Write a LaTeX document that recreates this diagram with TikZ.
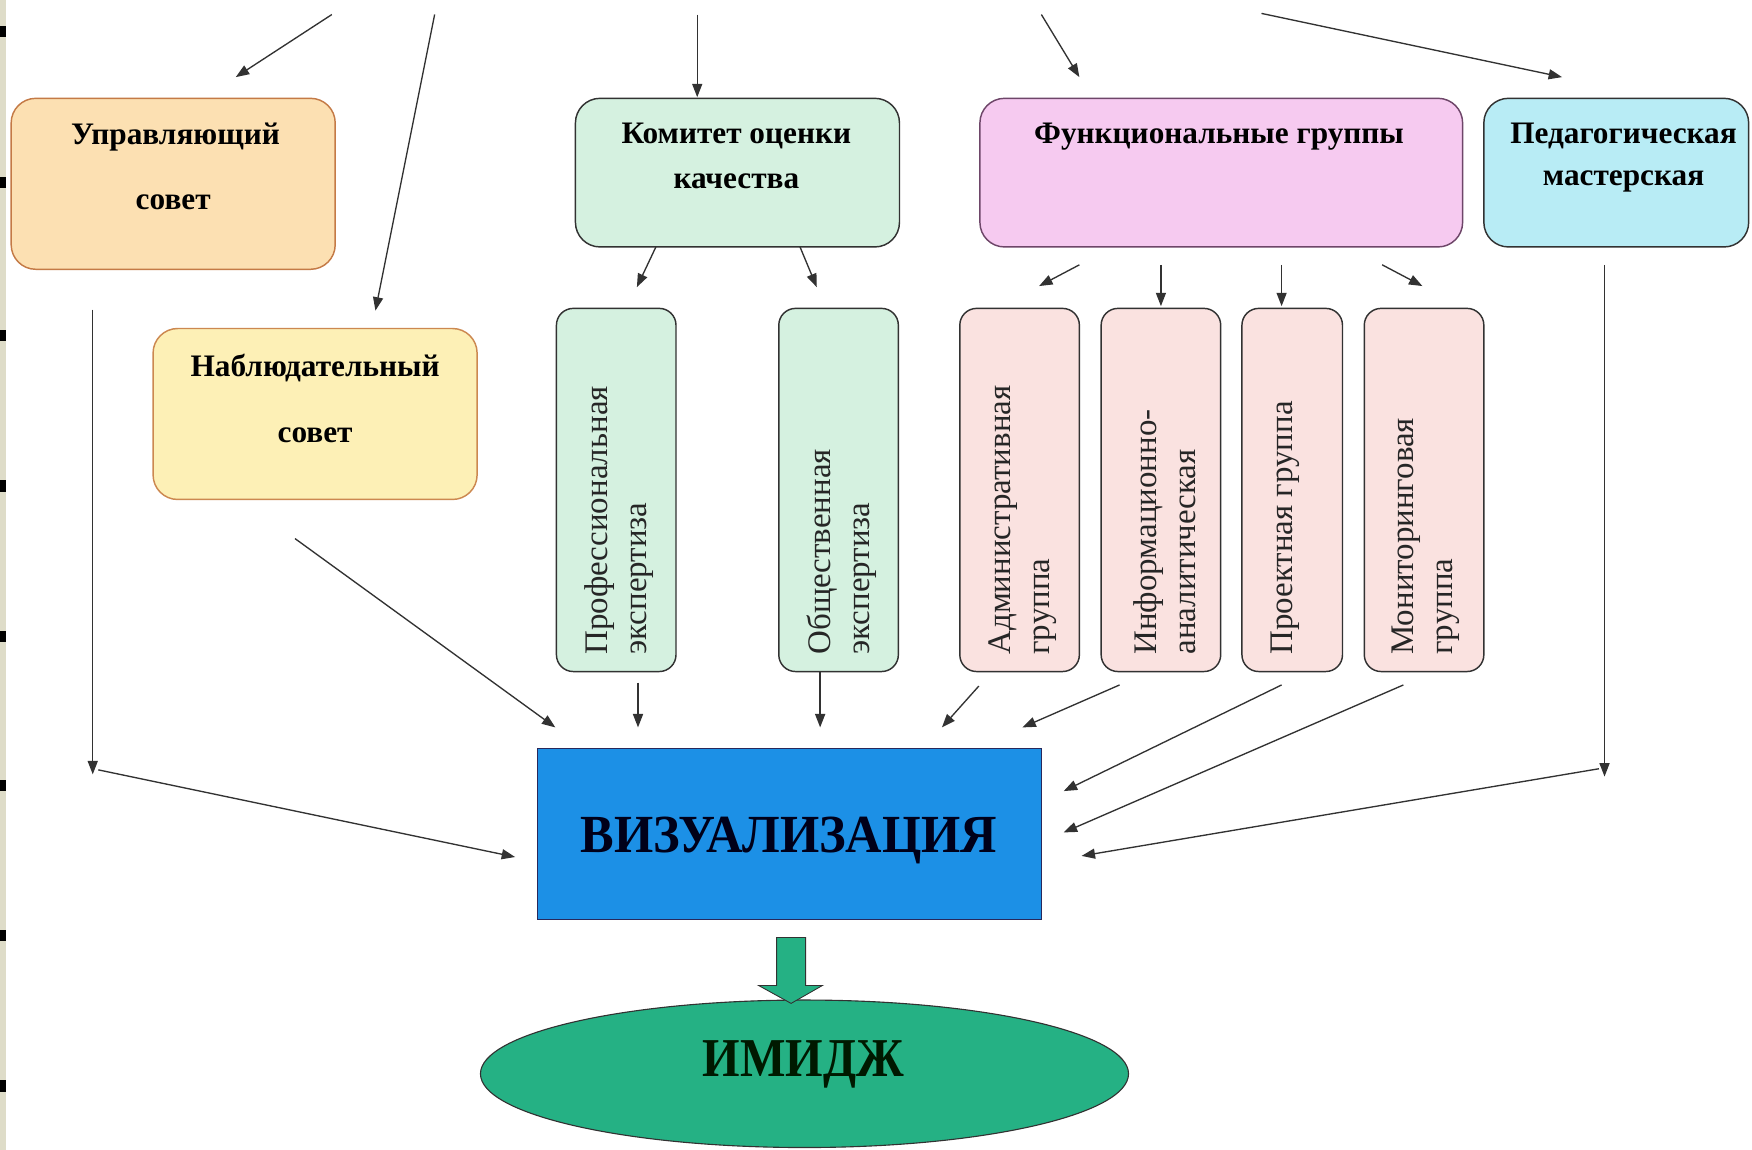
\documentclass[tikz,border=0pt]{standalone}
\usepackage{fontspec}
\setmainfont{Liberation Serif}
\usetikzlibrary{arrows.meta,shapes.geometric}
\definecolor{cUpr}{RGB}{252,224,178}
\definecolor{cUprB}{RGB}{196,122,70}
\definecolor{cNab}{RGB}{253,240,182}
\definecolor{cNabB}{RGB}{204,136,80}
\definecolor{cGreen}{RGB}{213,241,224}
\definecolor{cPink}{RGB}{246,202,240}
\definecolor{cPinkB}{RGB}{110,70,105}
\definecolor{cCyan}{RGB}{184,236,245}
\definecolor{cLPink}{RGB}{250,226,224}
\definecolor{cBlue}{RGB}{28,144,230}
\definecolor{cTeal}{RGB}{37,177,132}
\definecolor{cLine}{RGB}{50,50,50}
\definecolor{cStrip}{RGB}{222,220,200}
\tikzset{
  bigbox/.style={draw=cLine, line width=1.3pt, rounded corners=22pt, inner sep=0pt},
  vbox/.style={draw=cLine, line width=1.3pt, rounded corners=15pt, inner sep=0pt, minimum width=107pt, minimum height=325pt},
  ttl/.style={font=\fontsize{28}{32}\selectfont\bfseries, inner sep=0pt},
  vtxt/.style={font=\fontsize{29.5}{35}\selectfont, text=black!85, rotate=90, anchor=west, align=left, inner sep=0pt},
  arr/.style={draw=cLine, line width=1.2pt, -{Triangle[length=12pt,width=9pt]}}
}
\begin{document}
\begin{tikzpicture}[x=1pt,y=-1pt]
\useasboundingbox (0,0) rectangle (1568,1029);
\fill[white] (0,0) rectangle (1568,1029);
% left page strip
\fill[cStrip] (0,0) rectangle (5,1029);
\foreach \yy in {28,163,300,435,570,703,837,972}
  \fill[black] (0,\yy-5) rectangle (5,\yy+5);

% top boxes
\node[bigbox, fill=cUpr, draw=cUprB, minimum width=290pt, minimum height=153pt] (upr) at (155,164.5) {};
\node[ttl] (uprA) at (157,123) {Управляющий};
\node[ttl] (uprB) at (155,181) {совет};

\node[bigbox, fill=cNab, draw=cNabB, minimum width=290pt, minimum height=153pt] (nab) at (282,370.5) {};
\node[ttl] (nabA) at (282,329) {Наблюдательный};
\node[ttl] (nabB) at (282,390) {совет};

\node[bigbox, fill=cGreen, minimum width=290pt, minimum height=133pt] (kom) at (660,154.5) {};
\node[ttl] (komA) at (659,122) {Комитет оценки};
\node[ttl] (komB) at (659,162) {качества};

\node[bigbox, fill=cPink, draw=cPinkB, minimum width=432pt, minimum height=133pt] (fun) at (1093,154.5) {};
\node[ttl] (funA) at (1091,122) {Функциональные группы};

\node[bigbox, fill=cCyan, minimum width=237pt, minimum height=133pt] (ped) at (1446.5,154.5) {};
\node[ttl] (pedA) at (1453,122) {Педагогическая};
\node[ttl] (pedB) at (1453,162) {мастерская};

% vertical boxes
\node[vbox, fill=cGreen] (prof) at (551.5,438.5) {};
\node[vtxt] (profT) at (554,586) {Профессиональная\\экспертиза};
\node[vbox, fill=cGreen] (obsh) at (750.5,438.5) {};
\node[vtxt] (obshT) at (753,586) {Общественная\\экспертиза};
\node[vbox, fill=cLPink] (adm) at (912.5,438.5) {};
\node[vtxt] (admT) at (915,586) {Административная\\группа};
\node[vbox, fill=cLPink] (inf) at (1039,438.5) {};
\node[vtxt] (infT) at (1042,586) {Информационно-\\аналитическая};
\node[vbox, fill=cLPink, minimum width=90pt] (proj) at (1156.5,438.5) {};
\node[vtxt] (projT) at (1150,586) {Проектная группа};
\node[vbox, fill=cLPink] (mon) at (1274.5,438.5) {};
\node[vtxt] (monT) at (1276,586) {Мониторинговая\\группа};

% central
\node[draw=cLine!80!blue, line width=1pt, fill=cBlue, minimum width=451pt, minimum height=153pt, inner sep=0pt] (viz) at (706.5,746.5) {};
\node[inner sep=0pt, font=\fontsize{48}{50}\selectfont\bfseries, text=black!90!blue] (vizT) at (706,752) {\scalebox{0.94}[1]{ВИЗУАЛИЗАЦИЯ}};

\node[draw=cLine, line width=1pt, fill=cTeal, ellipse, minimum width=580pt, minimum height=132pt, inner sep=0pt] (img) at (720,961) {};
\node[inner sep=0pt, font=\fontsize{49}{50}\selectfont\bfseries, text=black!90!green] (imgT) at (719,953) {\scalebox{0.88}[1]{ИМИДЖ}};

% block arrow
\filldraw[draw=cLine, line width=0.8pt, fill=cTeal]
  (695,839) -- (721,839) -- (721,882) -- (736,882) -- (708,898) -- (679,882) -- (695,882) -- cycle;

% coordinates
\coordinate (t1s) at (297,13);   \coordinate (t1e) at (211,69);
\coordinate (t2s) at (389,13);   \coordinate (t2e) at (336,278);
\coordinate (t3s) at (624,13);   \coordinate (t3e) at (624,87);
\coordinate (t4s) at (932,13);   \coordinate (t4e) at (966,69);
\coordinate (t5s) at (1129,12);  \coordinate (t5e) at (1398,69);

\coordinate (k1s) at (587,221);  \coordinate (k1e) at (570,257);
\coordinate (k2s) at (716,221);  \coordinate (k2e) at (731,257);

\coordinate (f1s) at (966,237);  \coordinate (f1e) at (930,256);
\coordinate (f2s) at (1039,237); \coordinate (f2e) at (1039,274);
\coordinate (f3s) at (1147,237); \coordinate (f3e) at (1147,274);
\coordinate (f4s) at (1237,237); \coordinate (f4e) at (1273,256);

\coordinate (nS) at (264,482);   \coordinate (nE) at (497,651);
\coordinate (pS) at (571,611);   \coordinate (pE) at (571,651);
\coordinate (oE) at (734,651);
\coordinate (aS) at (876,614);   \coordinate (aE) at (843,651);
\coordinate (iS) at (1002,613);  \coordinate (iE) at (915,651);
\coordinate (prS) at (1147,613); \coordinate (prE) at (952,708);
\coordinate (mS) at (1256,613);  \coordinate (mE) at (952,745);

\coordinate (lT) at (83,277);    \coordinate (lB) at (83,693);
\coordinate (lS) at (88,689);    \coordinate (lE) at (461,767);
\coordinate (rT) at (1436,237);  \coordinate (rB) at (1436,695);
\coordinate (rS) at (1431,688);  \coordinate (rE) at (968,766);

% arrows
\draw[arr] (t1s) -- (t1e);
\draw[arr] (t2s) -- (t2e);
\draw[arr] (t3s) -- (t3e);
\draw[arr] (t4s) -- (t4e);
\draw[arr] (t5s) -- (t5e);
\draw[arr] (k1s) -- (k1e);
\draw[arr] (k2s) -- (k2e);
\draw[arr] (f1s) -- (f1e);
\draw[arr] (f2s) -- (f2e);
\draw[arr] (f3s) -- (f3e);
\draw[arr] (f4s) -- (f4e);
\draw[arr] (nS) -- (nE);
\draw[arr] (pS) -- (pE);
\draw[arr] (obsh.south -| oE) -- (oE);
\draw[arr] (aS) -- (aE);
\draw[arr] (iS) -- (iE);
\draw[arr] (prS) -- (prE);
\draw[arr] (mS) -- (mE);
\draw[arr] (lT) -- (lB);
\draw[arr] (lS) -- (lE);
\draw[arr] (rT) -- (rB);
\draw[arr] (rS) -- (rE);
\end{tikzpicture}
\end{document}
